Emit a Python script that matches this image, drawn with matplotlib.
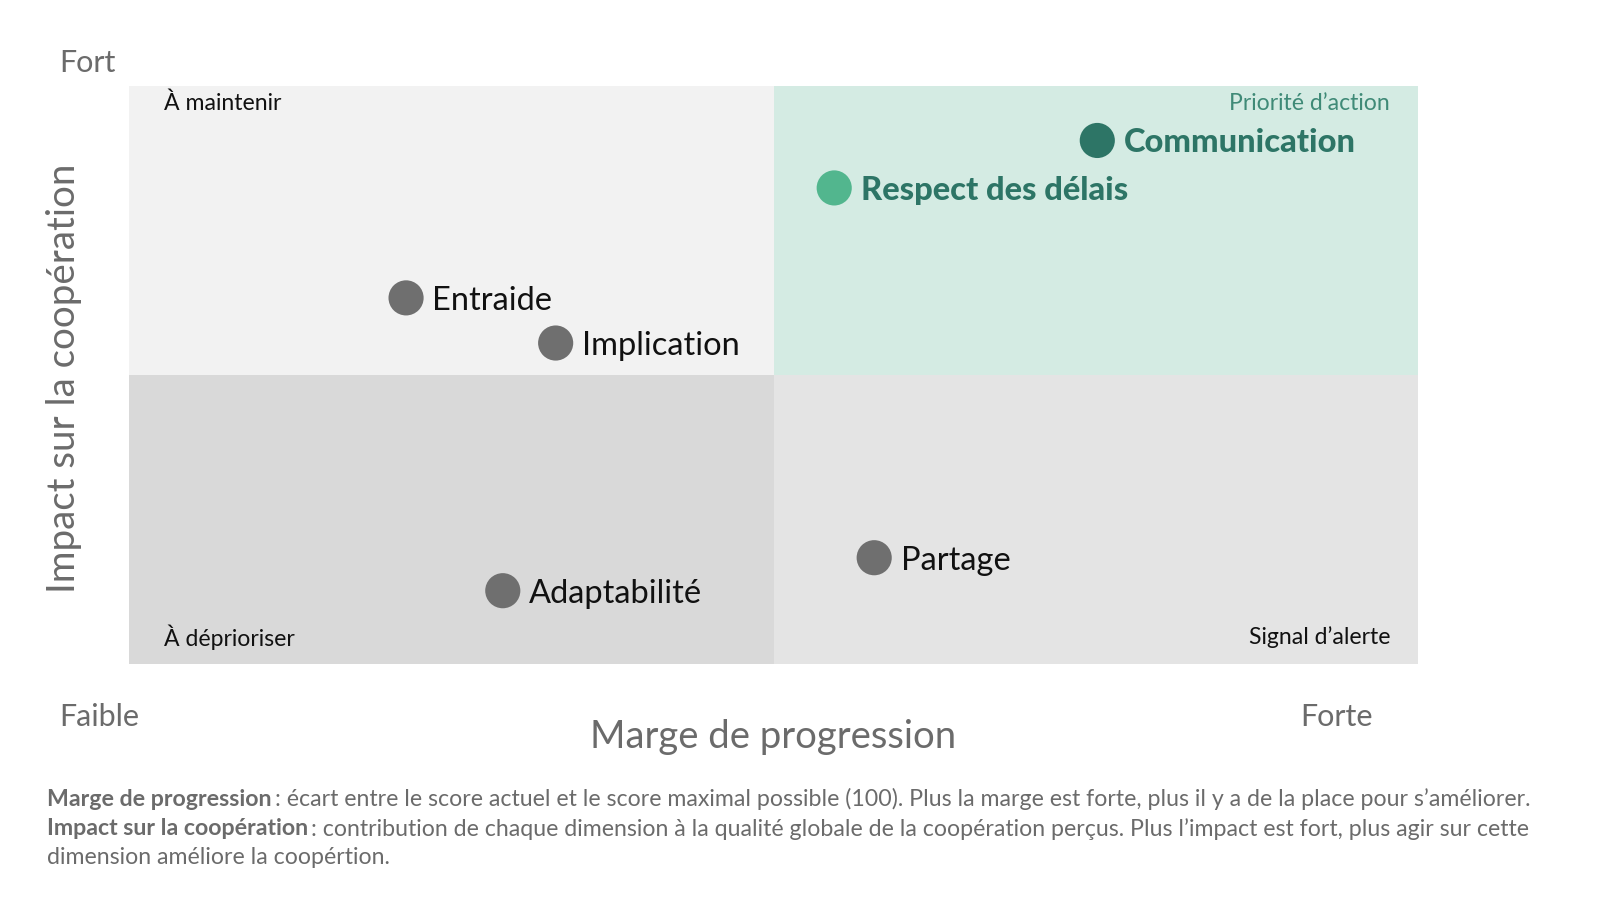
import matplotlib
matplotlib.use("Agg")
import matplotlib.pyplot as plt
from matplotlib.patches import Rectangle

plt.rcParams["font.family"] = ["Lato", "DejaVu Sans"]

# data (0-100 on both axes)
labels = ["Communication", "Respect des délais", "Entraide", "Implication", "Adaptabilité", "Partage"]
marge = [75.1, 54.7, 21.5, 33.1, 29.0, 57.8]
impact = [90.5, 82.3, 63.3, 55.5, 12.7, 18.4]
point_colors = ["#2d7566", "#52b68e", "#6f6f6f", "#6f6f6f", "#6f6f6f", "#6f6f6f"]
text_colors = ["#2d7566", "#2d7566", "#111111", "#111111", "#111111", "#111111"]
bold = [True, True, False, False, False, False]

quadrants = [
    # x0, y0, color, label, ha, label_x, label_y, label color
    (0, 50, "#f2f2f2", "À maintenir", "left", 2.7, 96.9, "#111111"),
    (50, 50, "#d4ebe3", "Priorité d’action", "right", 97.8, 96.9, "#3f8a77"),
    (0, 0, "#d9d9d9", "À déprioriser", "left", 2.7, 4.7, "#111111"),
    (50, 0, "#e4e4e4", "Signal d’alerte", "right", 97.8, 4.7, "#111111"),
]

notes = [
    ("Marge de progression", ": écart entre le score actuel et le score maximal possible (100). Plus la marge est forte, plus il y a de la place pour s’améliorer."),
    ("Impact sur la coopération", ": contribution de chaque dimension à la qualité globale de la coopération perçus. Plus l’impact est fort, plus agir sur cette"),
    ("", "dimension améliore la coopértion."),
]

GREY = "#6b6b6b"

fig = plt.figure(figsize=(16, 9), dpi=100)
ax = fig.add_axes([0.0805, 0.262, 0.806, 0.643])
ax.set_xlim(0, 100)
ax.set_ylim(0, 100)
ax.axis("off")

for x0, y0, col, lab, ha, lx, ly, lcol in quadrants:
    ax.add_patch(Rectangle((x0, y0), 50, 50, facecolor=col, edgecolor="none", zorder=0))
    ax.text(lx, ly, lab, ha=ha, va="center", fontsize=16.6, color=lcol, zorder=2)

ax.scatter(marge, impact, s=640, c=point_colors, edgecolors="none", zorder=3)
for x, y, lab, tc, b in zip(marge, impact, labels, text_colors, bold):
    ax.annotate(lab, (x, y), xytext=(19, 0), textcoords="offset points",
                ha="left", va="center_baseline", fontsize=23.5, color=tc,
                fontweight="black" if b else "normal", zorder=4)

# axis end labels
fig.text(0.037, 0.930, "Fort", ha="left", va="center", fontsize=22, color=GREY)
fig.text(0.037, 0.203, "Faible", ha="left", va="center", fontsize=22, color=GREY)
fig.text(0.8355, 0.203, "Forte", ha="center", va="center", fontsize=22, color=GREY)
fig.text(0.483, 0.181, "Marge de progression", ha="center", va="center", fontsize=27.5, color=GREY)
fig.text(0.040, 0.580, "Impact sur la coopération", ha="center", va="center",
         rotation=90, fontsize=27.7, color=GREY)

# footnote with bold lead-ins
fig.canvas.draw()
renderer = fig.canvas.get_renderer()
note_y = [0.112, 0.079, 0.047]
for (head, body), y in zip(notes, note_y):
    x = 0.0295
    if head:
        t = fig.text(x, y, head, ha="left", va="center", fontsize=16.7, color=GREY, fontweight="bold")
        bb = t.get_window_extent(renderer)
        x = (bb.x1 + 3) / fig.bbox.width
    fig.text(x, y, body, ha="left", va="center", fontsize=16.7, color=GREY)

plt.savefig("out.png", dpi=100, facecolor="white")
plt.close()
